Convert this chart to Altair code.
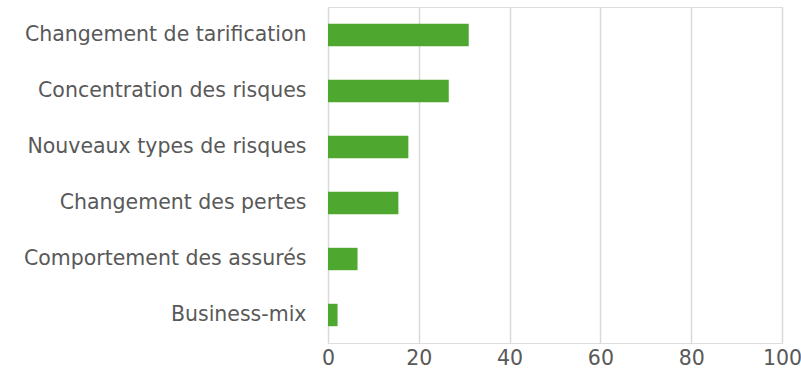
import altair as alt
import pandas as pd

categories = ["Changement de tarification", "Concentration des risques", "Nouveaux types de risques",
              "Changement des pertes", "Comportement des assurés", "Business-mix"]
values = [31.0, 26.6, 17.7, 15.5, 6.5, 2.1]

df = pd.DataFrame({"cat": categories, "val": values})

FONT = "DejaVu Sans"

chart = alt.Chart(df).mark_bar(color="#4EA72E").encode(
    x=alt.X("val:Q", scale=alt.Scale(domain=[0, 100], nice=False),
            axis=alt.Axis(values=[0, 20, 40, 60, 80, 100], title=None, domain=False, ticks=False,
                          grid=True, gridColor="#D9D9D9", gridWidth=1.5, labelFontSize=20.5,
                          labelColor="#595959", labelFont=FONT, labelPadding=5,
                          labelFlush=False)),
    y=alt.Y("cat:N", sort=categories, scale=alt.Scale(paddingInner=0.6, paddingOuter=0.3),
            axis=alt.Axis(title=None, domain=False, ticks=False, labelFontSize=20.5,
                          labelColor="#595959", labelFont=FONT, labelPadding=22, labelLimit=400))
).properties(
    width=454, height=336,
    autosize=alt.AutoSizeParams(type="none"),
    padding={"left": 328, "top": 7, "right": 19, "bottom": 42},
).configure_view(stroke=None).configure(background="white")

chart.save("out.html", embed_options={"renderer": "svg", "actions": False})
